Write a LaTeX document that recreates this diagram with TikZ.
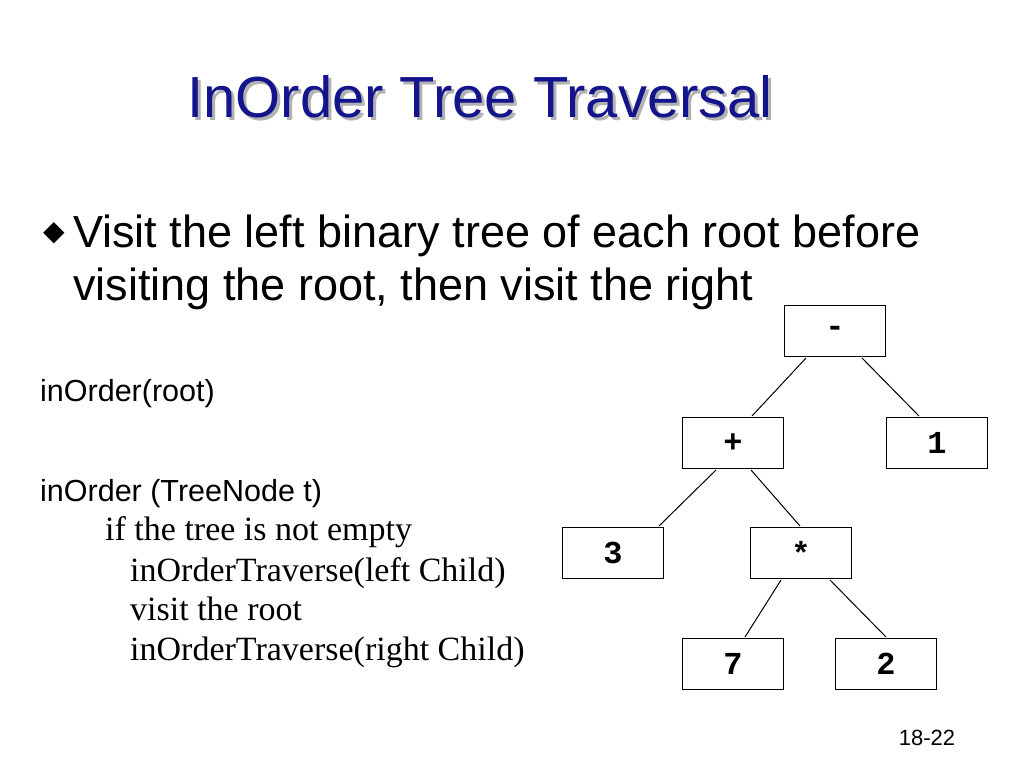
\documentclass[tikz,border=0pt]{standalone}
\usepackage{fontspec}
\setmainfont{Liberation Sans}
\newfontfamily\serifA{Liberation Serif}
\newfontfamily\monoA{Liberation Mono}
\begin{document}
\begin{tikzpicture}[x=1pt,y=-1pt,
  tbox/.style={draw,line width=1pt,minimum width=101pt,minimum height=51pt,inner sep=0pt,font=\monoA\bfseries\fontsize{32}{34}\selectfont},
  edge/.style={line width=1pt},
  bl/.style={anchor=base west,inner sep=0pt,font=\fontsize{45}{50}\selectfont},
  sl/.style={anchor=base west,inner sep=0pt,font=\fontsize{30.5}{34}\selectfont},
  rl/.style={anchor=base west,inner sep=0pt,font=\serifA\fontsize{34}{36}\selectfont}]
\useasboundingbox (0,0) rectangle (1024,768);
\definecolor{titleblue}{RGB}{20,20,140}
\node[anchor=base,inner sep=0pt,text=gray!60,font=\fontsize{58}{62}\selectfont] at (483,120) {InOrder Tree Traversal};
\node[anchor=base,inner sep=0pt,text=titleblue,font=\fontsize{58}{62}\selectfont] (title) at (480,117) {InOrder Tree Traversal};
\node[inner sep=0pt] (bul) at (54,233) {\fontspec{DejaVu Sans}\fontsize{28}{30}\selectfont ◆};
\node[bl] (txt1) at (73,247) {Visit the left binary tree of each root before};
\node[bl] (txt2) at (73,300) {visiting the root, then visit the right};
\node[sl] (r) at (40,401) {inOrder(root)};
\node[sl] (t) at (40,501) {inOrder (TreeNode t)};
\node[rl] (l1) at (105,540) {if the tree is not empty};
\node[rl] (l2) at (130,581) {inOrderTraverse(left Child)};
\node[rl] (l3) at (130,620) {visit the root};
\node[rl] (l4) at (130,660) {inOrderTraverse(right Child)};
\node[tbox] (m) at (835,331) {-};
\node[tbox] (p) at (733,443) {+};
\node[tbox] (o) at (937,443) {1};
\node[tbox] (th) at (613,553) {3};
\node[tbox] (s) at (801,553) {*};
\node[tbox] (sv) at (733,664) {7};
\node[tbox] (tw) at (886,664) {2};
\draw[edge] ([xshift=-29pt,yshift=-1pt]m.south) -- ([xshift=19pt,yshift=1pt]p.north);
\draw[edge] ([xshift=27pt,yshift=-1pt]m.south) -- ([xshift=-18pt,yshift=1pt]o.north);
\draw[edge] ([xshift=-17pt,yshift=-1pt]p.south) -- ([xshift=46pt,yshift=1pt]th.north);
\draw[edge] ([xshift=18pt,yshift=-1pt]p.south) -- ([xshift=-1pt,yshift=1pt]s.north);
\draw[edge] ([xshift=-20pt,yshift=-1pt]s.south) -- ([xshift=12pt,yshift=1pt]sv.north);
\draw[edge] ([xshift=29pt,yshift=-1pt]s.south) -- ([xshift=0pt,yshift=1pt]tw.north);
\node[anchor=base,inner sep=0pt,font=\fontsize{22}{24}\selectfont] (pg) at (927,745) {18-22};
\end{tikzpicture}
\end{document}
